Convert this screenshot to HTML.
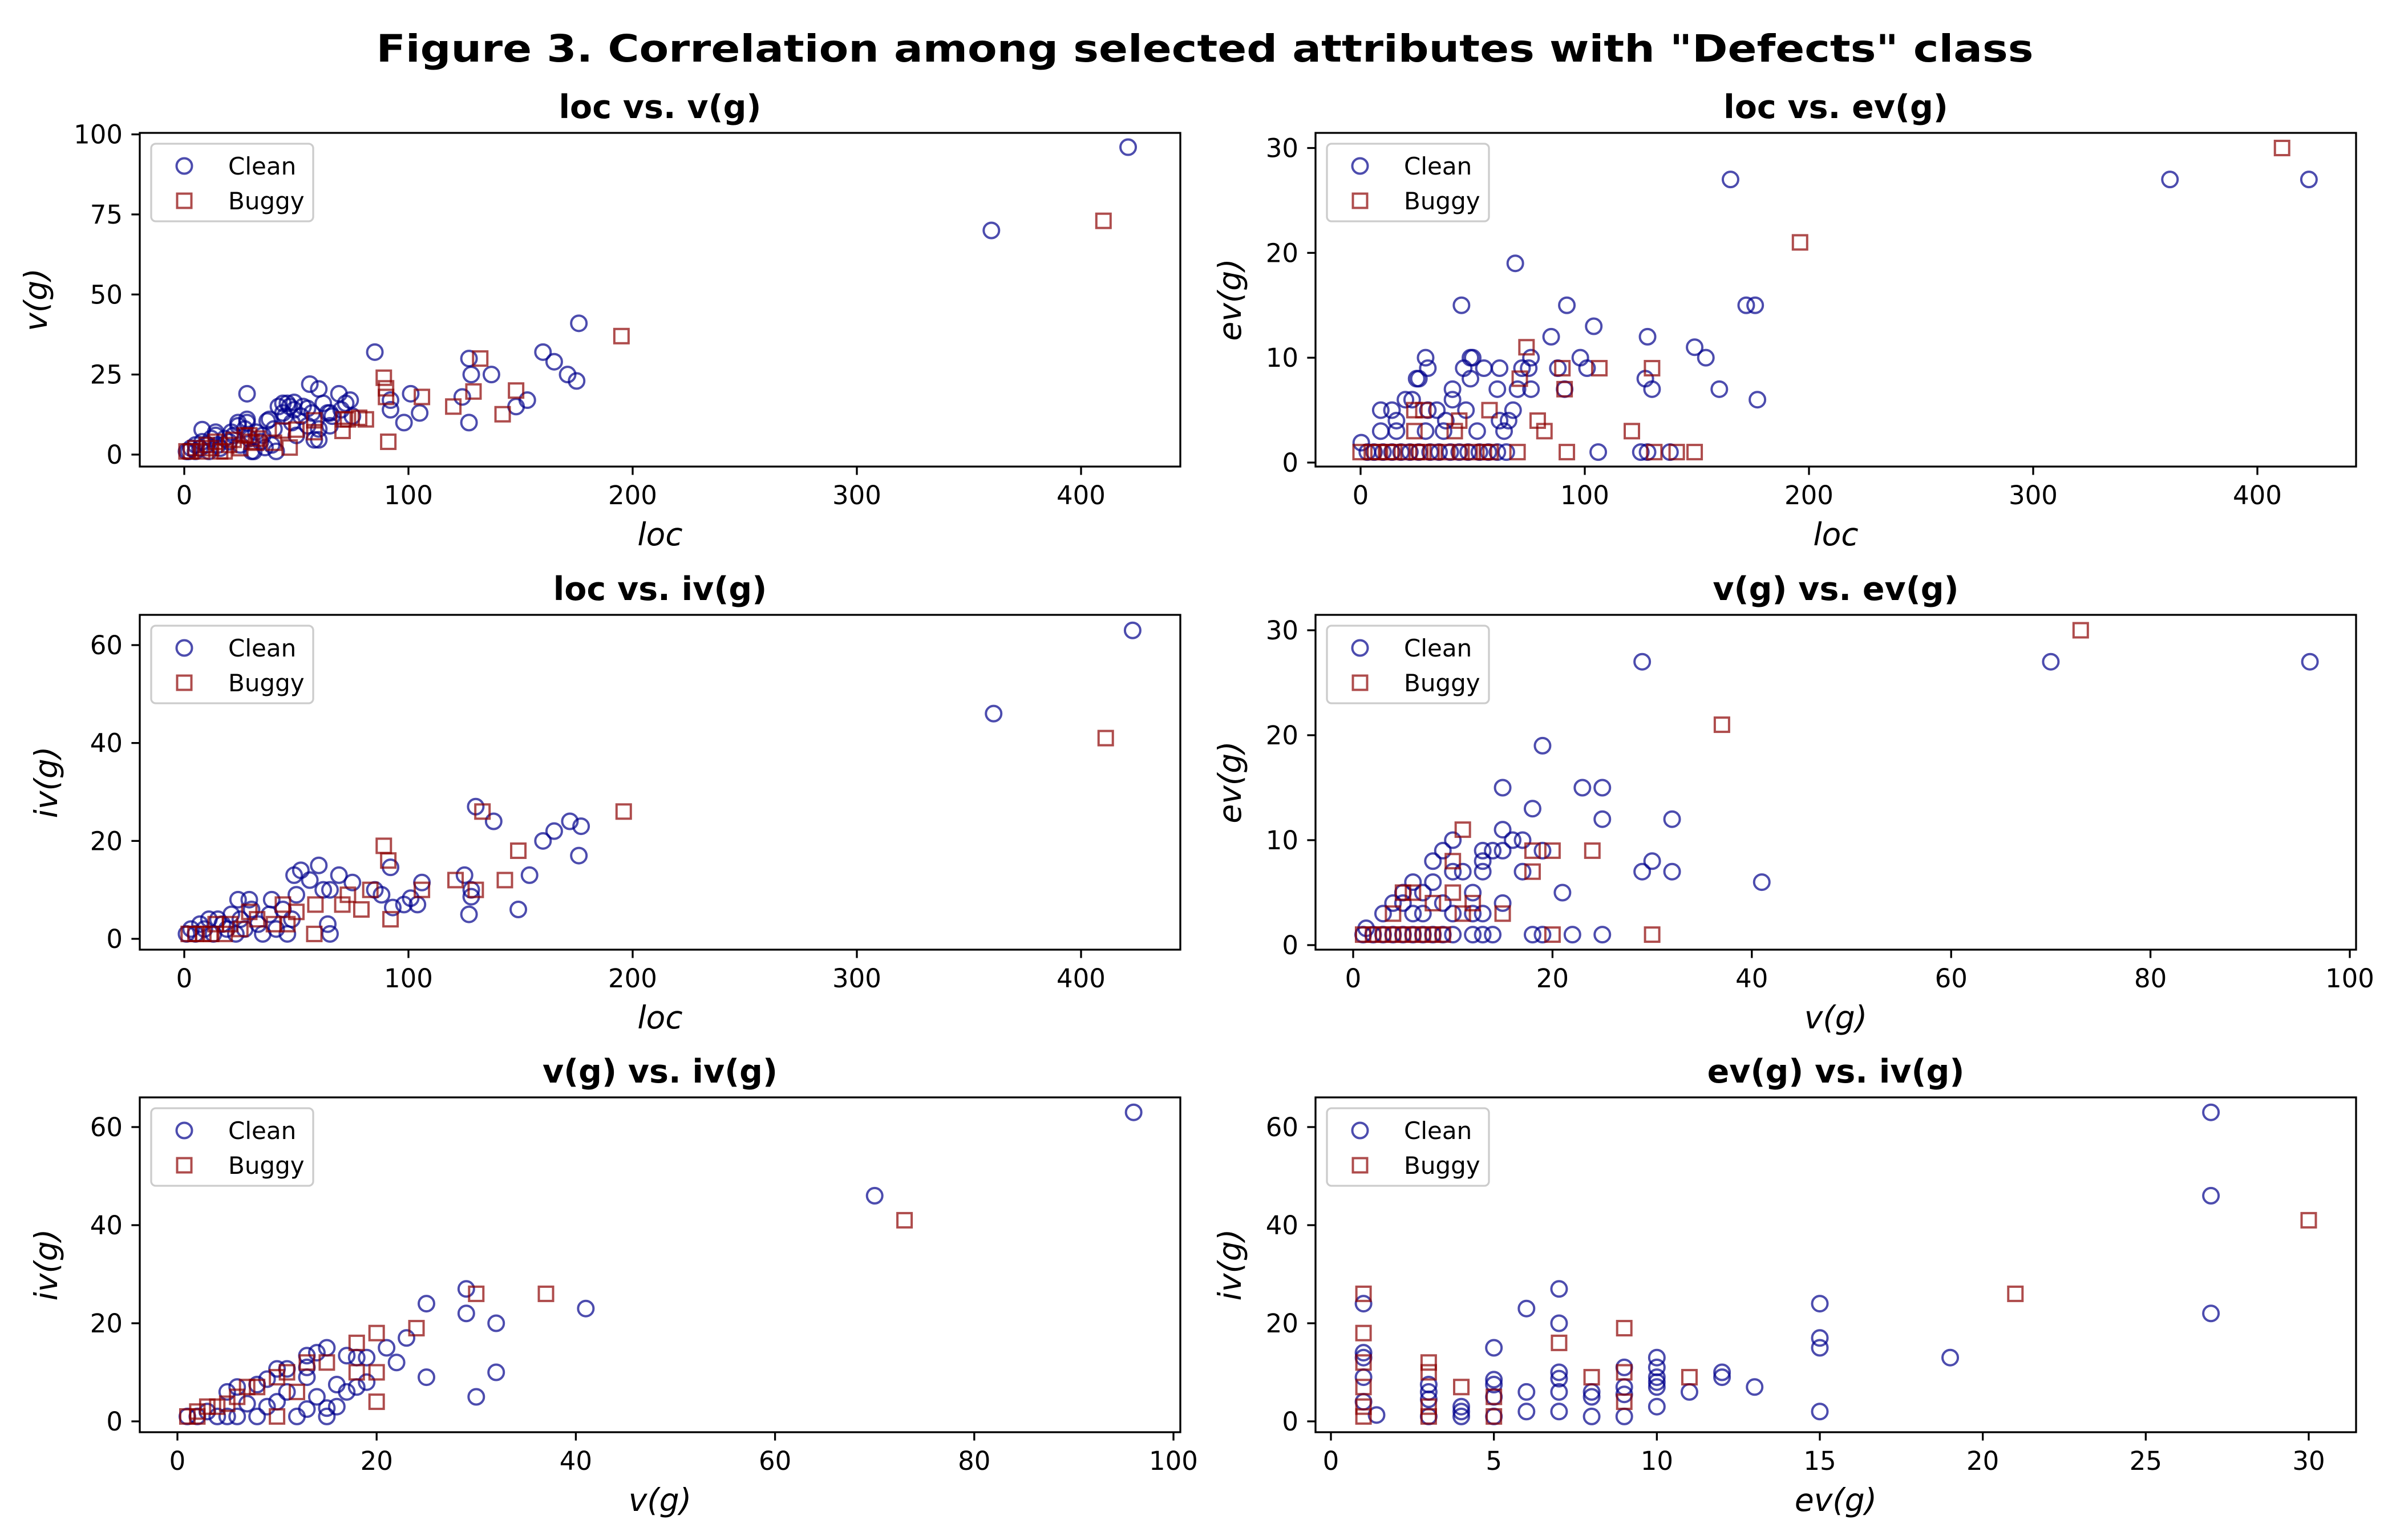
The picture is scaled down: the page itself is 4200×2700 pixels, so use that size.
<!DOCTYPE html>
<html><head><meta charset="utf-8">
<style>
html,body{margin:0;padding:0;background:#fff;}
svg{display:block;font-family:"DejaVu Sans","Liberation Sans",sans-serif;}
</style></head>
<body>
<svg id="fig" width="4200" height="2700" viewBox="0 0 4200 2700" xmlns="http://www.w3.org/2000/svg">
<rect width="4200" height="2700" fill="#fff"/>
<text x="2112" y="108" text-anchor="middle" font-size="66" font-weight="bold" textLength="2905" lengthAdjust="spacingAndGlyphs">Figure 3. Correlation among selected attributes with "Defects" class</text>
</svg>
<script>
// ---- Panel 1: loc vs v(g)
const p1CleanX=[421,360,176,85,160,165,127,171,175,128,137,28,56,60,69,74,101,105,98,127,124,148,153,92,92,1,2,3,5,5,7,8,8,10,11,12,14,14,15,16,18,20,21,22,24,24,25,27,28,28,29,30,31,32,34,35,36,37,38,39,40,41,42,44,44,45,46,47,48,49,49,50,52,53,55,55,57,58,60,60,62,64,65,65,66,70,72,75];
const p1CleanY=[96,70,41,32,32,29,30,25,23,25,25,19,22,20.5,19,17,19,13,10,10,18,15,17,17,14,1,1,2,1,3,2,7.8,4,3,1,5,7,6,3,2,5,4,7,6,9,10,3,8,11,10,5,1,1,7,4,6,2.2,10.5,11,3,8,1,15,13,16,12,16,15,10,14,16.3,6,12,15,9,14.4,13,4.6,8,4.6,16,13,9,13,12,14,16,12];
const p1BugX=[410,195,132,89,90,90,129,148,106,120,142,91,81,78,71,73,70.6,58,58,50,44,40,47,32,29,22,18,1,3,5,8,10,12,14,16,20,25,27,30,33];
const p1BugY=[73,37,30,24,20.7,18,19.7,20,18,15,12.6,4,11,11.5,11,11,7.4,10.7,7,7.8,7.5,3.7,2.2,3.7,6,4.6,1,1,1,2,1,3,2,4,1,3,2,6,4,5];
const p1XTicks=[0,100,200,300,400];
const p1YTicks=[0,25,50,75,100];
// ---- Panel 2: loc vs ev(g)
const p2CleanX=[361,423,165,69,45,92,172,176,104,85,128,149,154,98,76,29,49,50,30,46,55,62,72,75,101,88,25,26,49,127,41,61,70,76,91,130,160,177,41,20,23,9,14,30,34,47,68,16,38,62,66,9,16,29,37,52,64,0.3,3,6,10,14,18,22,26,31,35,40,44,48,53,57,61,65,106,125,128,138];
const p2CleanY=[27,27,27,19,15,15,15,15,13,12,12,11,10,10,10,10,10,10,9,9,9,9,9,9,9,9,8,8,8,8,7,7,7,7,7,7,7,6,6,6,6,5,5,5,5,5,5,4,4,4,4,3,3,3,3,3,3,1.9,1,1,1,1,1,1,1,1,1,1,1,1,1,1,1,1,1,1,1,1];
const p2BugX=[411,196,74,90,106.5,130,71,91,79,44,24,28,57.5,82,121,24,42,0,5,8,12,15,20,25,28,33,38,45,50,55,58,70,92,131,141,149];
const p2BugY=[30,21,11,9,9,9,8,7,4,4,5,5,5,3,3,3,3,1,1,1,1,1,1,1,1,1,1,1,1,1,1,1,1,1,1,1];
const p2XTicks=[0,100,200,300,400];
const p2YTicks=[0,10,20,30];
// ---- Panel 3: loc vs iv(g)
const p3CleanX=[423,361,130,138,172,177,165,160,176,154,125,127,149,128,128,106,104,98,101,93,92,88,85,75,69,60,52,49,56,62,65,64,65,50,39,24,29,1,3,5,7,9,11,13,15,17,19,21,23,25,27,30,33,35,38,41,44,46,48];
const p3CleanY=[63,46,27,24,24,23,22,20,17,13,13,5,6,8.6,10,11.5,7,7,8.3,6.4,14.6,9,10,11.5,13,15,14,13,12,10,10,3,1,9,8,8,8,1,2,1,3,2,4,1,4,3,2,5,1,4,2,6,3,1,5,2,6,1,4];
const p3BugX=[411,196,133,89,91,149,121,143,130,106,83,73,70.5,79,92,58.5,58,44,50,46,40,32.5,29,20.5,14,18,8.5,2,5,12,25];
const p3BugY=[41,26,26,19,16,18,12,12,10,10,10,9,7,6,4,7,1,7,5.5,3,3,4,5.5,3,3,1,1,1,1,1,2];
const p3XTicks=[0,100,200,300,400];
const p3YTicks=[0,20,40,60];
// ---- Panel 4: v(g) vs ev(g)
const p4CleanX=[96,70,29,19,15,23,25,18,25,32,15,10,16,17,9,13,14,15,19,8,13,30,10,11,13,17,29,32,41,6,8,21,5,7,12,4,5,9,15,3,6,7,10,13,12,1.3,1,2,3,4,5,6,7,8,9,10,12,13,14,18,19,22,25];
const p4CleanY=[27,27,27,19,15,15,15,13,12,12,11,10,10,10,9,9,9,9,9,8,8,8,7,7,7,7,7,7,6,6,6,5,5,5,5,4,4,4,4,3,3,3,3,3,3,1.6,1,1,1,1,1,1,1,1,1,1,1,1,1,1,1,1,1];
const p4BugX=[73,37,11,18,20,24,10,18,5,6,10,8,12,4,11,15,30,20,1,2,3,4,5,6,7,8,9];
const p4BugY=[30,21,11,9,9,9,8,7,5,5,5,4,4,3,3,3,1,1,1,1,1,1,1,1,1,1,1];
const p4XTicks=[0,20,40,60,80,100];
const p4YTicks=[0,10,20,30];
// ---- Panel 5: v(g) vs iv(g)
const p5CleanX=[96,70,29,25,41,29,32,23,21,22,15,14,13,17,19,18,32,25,30,16,18,19,14,13,15,15,16,12,17,10,10,11,13,13,9,8,6,5,7,8,6,4,5,2,9,11,1,3];
const p5CleanY=[63,46,27,24,23,22,20,17,15,12,15,14,13.4,13.4,13,13,10,9,5,7.5,7,8,5,2.5,2.7,1,3,1,6,4,10.7,10.7,11,9,8.6,7.5,7,6,3.6,1,1,1,1,1,3,6,1,2];
const p5BugX=[73,37,30,24,20,18,20,18,15,13,11,10,12,8,7,6,5,4,3,2,1,2,10,20];
const p5BugY=[41,26,26,19,18,16,10,10,12,12,10,9,6,7,7,5,3.6,3,3,2,1,1,1,4];
const p5XTicks=[0,20,40,60,80,100];
const p5YTicks=[0,20,40,60];
// ---- Panel 6: ev(g) vs iv(g)
const p6CleanX=[27,27,27,19,15,15,15,15,13,12,12,11,10,10,10,10,10,10,9,9,9,9,8,8,8,7,7,7,7,7,7,6,6,6,5,5,5,5,5,4,4,4,3,3,3,3,1.4,1,1,1,1,1];
const p6CleanY=[63,46,22,13,24,17,15,2,7,9,10,6,13,11,9,8,7,3,1,7,5.5,11,6,5,1,27,20,10,8.7,6,2,23,6,2,15,8.5,7.5,5,1,3,1,2,7.5,6,1,4.5,1.3,24,14,13,9,4];
const p6BugX=[30,21,9,7,11,8,9,9,1,1,1,1,1,1,3,3,3,4,5,5,3];
const p6BugY=[41,26,19,16,9,9,10,4,26,18,12,7,3,1,12,10,3,7,5,1,1];
const p6XTicks=[0,5,10,15,20,25,30];
const p6YTicks=[0,20,40,60];

const NS='http://www.w3.org/2000/svg';
const svg=document.getElementById('fig');
function mk(tag,attrs,parent){const e=document.createElementNS(NS,tag);for(const k in attrs)e.setAttribute(k,attrs[k]);(parent||svg).appendChild(e);return e;}
function lin(d0,p0,d1,p1){return v=>p0+(v-d0)*(p1-p0)/(d1-d0);}

const panels=[
 {id:'loc-vs-vg',title:'loc vs. v(g)',xl:'loc',yl:'v(g)',L:245,R:2069,T:233,B:818,sx:lin(0,323,400,1895),sy:lin(0,797,100,235.6),xt:p1XTicks,yt:p1YTicks,cx:p1CleanX,cy:p1CleanY,bx:p1BugX,by:p1BugY,ylx:82},
 {id:'loc-vs-evg',title:'loc vs. ev(g)',xl:'loc',yl:'ev(g)',L:2306,R:4130,T:233,B:818,sx:lin(0,2385,400,3957),sy:lin(0,811,30,259.5),xt:p2XTicks,yt:p2YTicks,cx:p2CleanX,cy:p2CleanY,bx:p2BugX,by:p2BugY,ylx:2175},
 {id:'loc-vs-ivg',title:'loc vs. iv(g)',xl:'loc',yl:'iv(g)',L:245,R:2069,T:1078,B:1665,sx:lin(0,323,400,1895),sy:lin(0,1646,60,1131),xt:p3XTicks,yt:p3YTicks,cx:p3CleanX,cy:p3CleanY,bx:p3BugX,by:p3BugY,ylx:100},
 {id:'vg-vs-evg',title:'v(g) vs. ev(g)',xl:'v(g)',yl:'ev(g)',L:2306,R:4130,T:1078,B:1665,sx:lin(0,2372,100,4119),sy:lin(0,1657,30,1105),xt:p4XTicks,yt:p4YTicks,cx:p4CleanX,cy:p4CleanY,bx:p4BugX,by:p4BugY,ylx:2175},
 {id:'vg-vs-ivg',title:'v(g) vs. iv(g)',xl:'v(g)',yl:'iv(g)',L:245,R:2069,T:1924,B:2511,sx:lin(0,311,100,2057),sy:lin(0,2492,60,1976),xt:p5XTicks,yt:p5YTicks,cx:p5CleanX,cy:p5CleanY,bx:p5BugX,by:p5BugY,ylx:100},
 {id:'evg-vs-ivg',title:'ev(g) vs. iv(g)',xl:'ev(g)',yl:'iv(g)',L:2306,R:4130,T:1924,B:2511,sx:lin(0,2333,30,4047),sy:lin(0,2492,60,1976),xt:p6XTicks,yt:p6YTicks,cx:p6CleanX,cy:p6CleanY,bx:p6BugX,by:p6BugY,ylx:2175}
];
const CL='#00008b', BU='#8b0000';
panels.forEach(p=>{
  const g=mk('g',{});
  
  
  const t=mk('text',{x:(p.L+p.R)/2,y:p.T-26,'text-anchor':'middle','font-size':57,'font-weight':'bold'},g);
  t.textContent=p.title;
  
  
  for(let i=0;i<p.cx.length;i++){
    const c=mk('circle',{cx:p.sx(p.cx[i]),cy:p.sy(p.cy[i]),r:13.5,fill:'none',stroke:CL,'stroke-opacity':0.7,'stroke-width':4},g);
    
    
  }
  for(let i=0;i<p.bx.length;i++){
    const r=mk('rect',{x:p.sx(p.bx[i])-12.5,y:p.sy(p.by[i])-12.5,width:25,height:25,fill:'none',stroke:BU,'stroke-opacity':0.7,'stroke-width':4},g);
    
    
  }
  const f=mk('rect',{x:p.L,y:p.T,width:p.R-p.L,height:p.B-p.T,fill:'none',stroke:'#000','stroke-width':3.3},g);
  
  
  p.xt.forEach(v=>{
    const x=p.sx(v);
    mk('line',{x1:x,x2:x,y1:p.B,y2:p.B+14.6,stroke:'#000','stroke-width':3.3},g);
    const tl=mk('text',{x:x,y:p.B+66,'text-anchor':'middle','font-size':45},g);
    tl.textContent=v;
    
    
  });
  p.yt.forEach(v=>{
    const y=p.sy(v);
    mk('line',{x1:p.L-14.6,x2:p.L,y1:y,y2:y,stroke:'#000','stroke-width':3.3},g);
    const tl=mk('text',{x:p.L-30,y:y+16,'text-anchor':'end','font-size':45},g);
    tl.textContent=v;
    
    
  });
  const xl=mk('text',{x:(p.L+p.R)/2,y:p.B+138,'text-anchor':'middle','font-size':55,'font-style':'italic'},g);
  xl.textContent=p.xl;
  
  
  const yc=(p.T+p.B)/2;
  const yl=mk('text',{x:p.ylx,y:yc,'text-anchor':'middle','font-size':55,'font-style':'italic',transform:'rotate(-90 '+p.ylx+' '+yc+')'},g);
  yl.textContent=p.yl;
  
  
  const lg=mk('g',{},g);
  
  
  mk('rect',{x:p.L+20,y:p.T+19,width:284,height:136,rx:8,fill:'#fff','fill-opacity':0.8,stroke:'#cccccc','stroke-width':3.3},lg);
  const lc=mk('circle',{cx:p.L+78,cy:p.T+58,r:13.5,fill:'none',stroke:CL,'stroke-opacity':0.7,'stroke-width':4},lg);
  
  
  const lt1=mk('text',{x:p.L+155,y:p.T+73,'font-size':42},lg);
  lt1.textContent='Clean';
  
  
  const lb=mk('rect',{x:p.L+65.5,y:p.T+106.5,width:25,height:25,fill:'none',stroke:BU,'stroke-opacity':0.7,'stroke-width':4},lg);
  
  
  const lt2=mk('text',{x:p.L+155,y:p.T+134,'font-size':42},lg);
  lt2.textContent='Buggy';
  
  
});
</script>
</body></html>
